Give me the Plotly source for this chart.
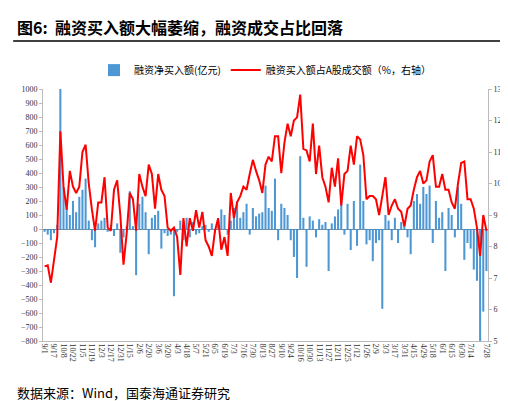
import plotly.graph_objects as go

tick_labels = ["9/1","9/17","10/8","10/22","11/5","11/19","12/3","12/17","12/31","1/15","2/6","2/20","3/6","3/20","4/3","4/18","5/7","5/21","6/5","6/19","7/3","7/16","7/30","8/13","8/27","9/10","9/24","10/16","10/30","11/13","11/27","12/11","12/25","1/12","1/26","2/9","3/3","3/17","3/31","4/15","4/29","5/18","6/1","6/15","6/30","7/14","7/28"]

net_buy = [-20,-40,-80,-30,30,1000,300,150,100,200,120,230,280,360,60,-80,-130,40,60,80,
           -20,30,-50,40,-170,-60,20,270,20,-330,180,230,120,-180,80,100,130,-140,-30,-50,
           -40,-480,-20,60,-80,80,-60,50,-40,-30,20,30,-20,40,-30,50,140,100,-40,60,
           150,200,80,120,180,-40,150,90,110,120,310,150,130,360,-80,180,150,100,-80,-200,
           -350,520,80,-270,90,60,-60,70,30,50,-300,40,90,140,200,-40,180,-150,200,-120,
           460,200,-110,-80,-230,-100,-80,-570,100,60,-80,80,-100,50,60,-60,-180,200,250,180,
           300,250,310,-100,200,80,120,-300,150,100,-60,300,180,-220,-100,-140,-290,-370,-800,-590,-300]

ratio = [7.37,7.4,6.85,7.5,8.3,11.66,9.9,9.17,10.4,9.9,9.7,9.9,11.0,11.23,10.0,9.17,8.5,9.4,9.4,10.2,
         8.6,8.5,9.8,10.1,9.0,7.42,8.4,9.7,9.5,8.5,10.3,9.9,9.6,10.6,10.3,9.2,10.3,9.8,9.6,8.6,
         8.5,8.6,8.3,7.1,8.9,8.0,8.9,8.5,9.15,8.6,9.1,8.2,8.0,7.7,8.5,8.9,7.9,8.3,7.7,9.7,
         8.9,9.4,9.6,9.9,9.8,10.3,10.75,10.4,10.1,9.7,10.6,10.85,10.7,11.5,11.5,10.33,11.3,11.9,11.5,12.0,
         12.1,12.82,11.1,11.05,10.7,11.9,10.3,11.2,10.2,9.9,9.4,10.5,9.9,10.8,9.3,10.3,10.4,11.2,10.6,11.5,
         11.4,10.9,9.5,9.6,9.6,9.5,9.0,9.6,10.2,9.0,9.3,9.5,9.2,9.1,8.64,9.2,9.3,9.8,10.2,10.4,
         10.0,10.1,10.7,10.9,9.9,9.9,10.3,9.8,9.8,9.4,9.2,10.0,10.65,10.7,9.5,9.5,9.2,8.6,7.7,9.0,8.5]

n = len(ratio)
x = list(range(n))
tickvals = [i * 3 for i in range(len(tick_labels))]
tickvals[-1] = n - 1

serif = "Liberation Serif, Noto Sans CJK SC"
cjk = "Noto Sans CJK SC"

fig = go.Figure()
fig.add_trace(go.Bar(x=x, y=net_buy, name="融资净买入额(亿元)", marker_color="#3A8DD0",
                     marker_line_width=0, opacity=0.9))
fig.add_trace(go.Scatter(x=x, y=ratio, name="融资买入额占A股成交额（%，右轴）", yaxis="y2",
                         mode="lines", line=dict(color="#FF0000", width=2)))

fig.update_layout(
    width=508, height=401, paper_bgcolor="white", plot_bgcolor="white",
    margin=dict(l=35, r=28, t=81, b=68),
    bargap=0.35, showlegend=True,
    legend=dict(orientation="h", x=0.5, xanchor="center", y=1.075, yanchor="middle",
                font=dict(family=cjk, size=10, color="black"), itemwidth=30, traceorder="normal",
                bgcolor="rgba(0,0,0,0)"),
    xaxis=dict(tickmode="array", tickvals=tickvals, ticktext=tick_labels, tickangle=90,
               tickfont=dict(family=serif, size=8, color="#333"), range=[-0.5, n - 0.5],
               showline=True, linecolor="#BBBBBB", showgrid=False, ticks=""),
    yaxis=dict(range=[-800, 1000], dtick=100, tickfont=dict(family=serif, size=8, color="#333"),
               showline=True, linecolor="#BBBBBB", ticks="outside", ticklen=3, tickcolor="#BBBBBB",
               showgrid=False, zeroline=True, zerolinecolor="#6A8DAA", zerolinewidth=1),
    yaxis2=dict(range=[5, 13], dtick=1, overlaying="y", side="right",
                tickfont=dict(family=serif, size=8, color="#333"),
                showline=True, linecolor="#BBBBBB", ticks="outside", ticklen=3, tickcolor="#BBBBBB",
                showgrid=False, zeroline=False),
    annotations=[
        dict(text="<b>图6:  融资买入额大幅萎缩，融资成交占比回落</b>", x=-0.062, y=1.3, xref="paper",
             yref="paper", xanchor="left", yanchor="top", showarrow=False,
             font=dict(family=cjk, size=16, color="black")),
        dict(text="数据来源：Wind，国泰海通证券研究", x=-0.062, y=-0.25, xref="paper", yref="paper",
             xanchor="left", yanchor="bottom", showarrow=False,
             font=dict(family=cjk, size=13, color="black")),
    ],
    shapes=[dict(type="line", xref="paper", yref="paper", x0=-0.067, x1=1.045, y0=1.19, y1=1.19,
                 line=dict(color="black", width=1.5))],
)
fig.write_html("out.html")
